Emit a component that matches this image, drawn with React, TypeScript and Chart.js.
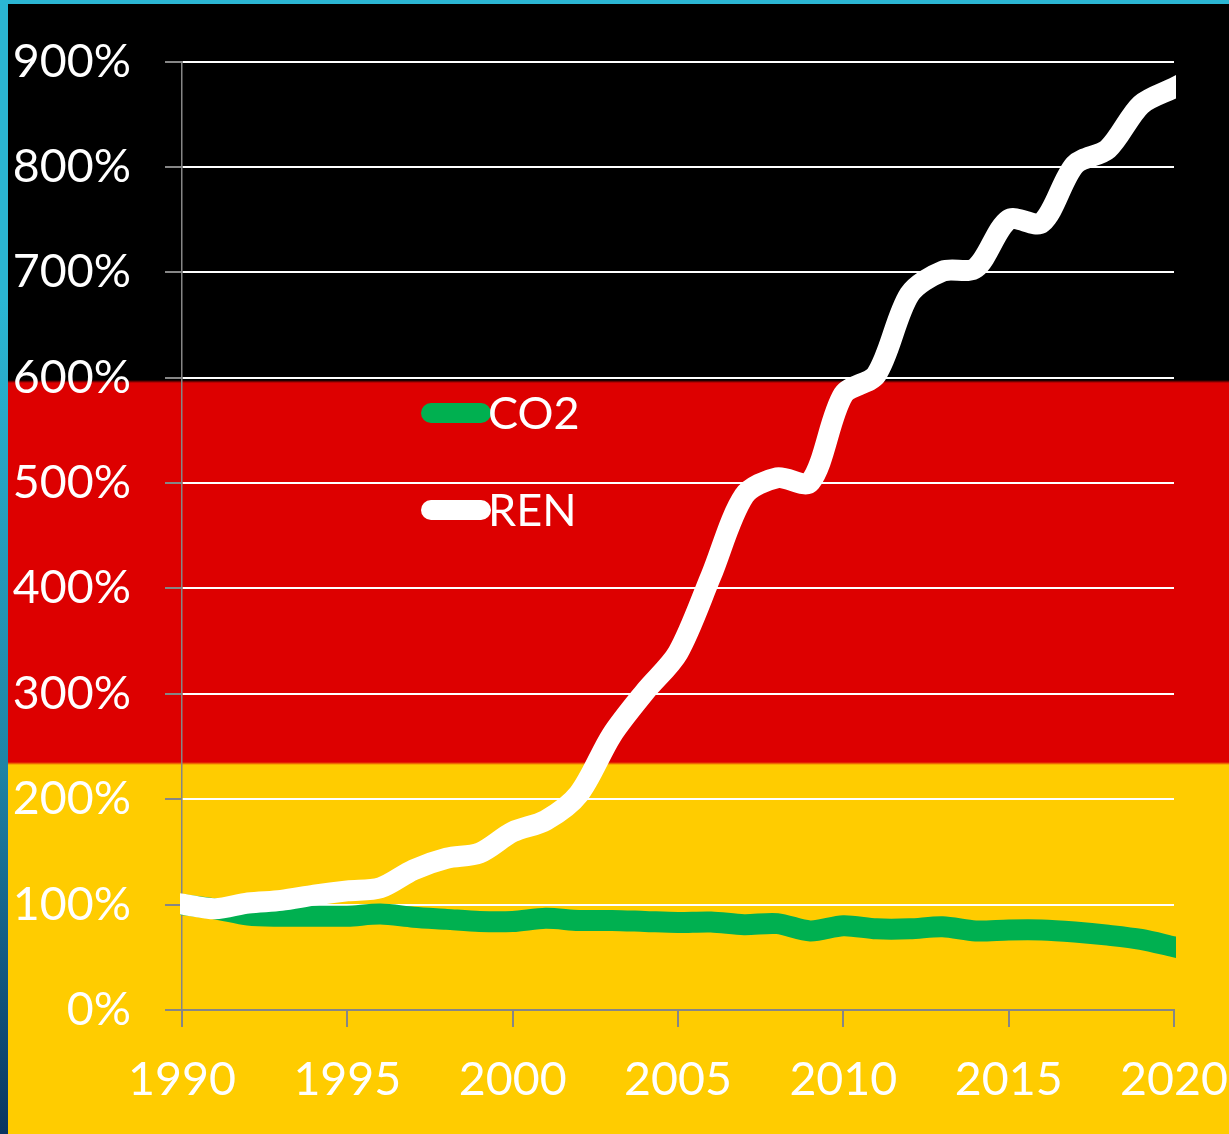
import React, { useEffect, useRef } from "react";
import { Chart, registerables } from "chart.js";

Chart.register(...registerables);

const years = [1990,1991,1992,1993,1994,1995,1996,1997,1998,1999,2000,2001,2002,2003,2004,2005,2006,2007,2008,2009,2010,2011,2012,2013,2014,2015,2016,2017,2018,2019,2020];
const co2 = [100,96,90,89,89,89,91,88,86,84,84,87,85,85,84,83,83.5,81,82,75,80,77,77,79,75,76,76,74,71,67,60];
const ren = [100.5,96,101.5,104,109,113,116,133,144,149,169,180,205,261,302,339,412,488,505,501,584,603,679,701,704,750,747,802,817,859,875];
const seriesNames = ["CO2", "REN"];
const seriesColors = ["#00B050", "#FFFFFF"];

const FONT = "Lato, 'Open Sans', sans-serif";
const GREY = "#868686";

const legendPlugin = {
  id: "insideLegend",
  afterDraw(chart: any) {
    const { ctx } = chart;
    const rows = [413, 510];
    chart.data.datasets.forEach((d: any, i: number) => {
      const y = rows[i];
      ctx.save();
      ctx.strokeStyle = d.borderColor;
      ctx.lineWidth = 20;
      ctx.lineCap = "round";
      ctx.beginPath();
      ctx.moveTo(431, y);
      ctx.lineTo(481, y);
      ctx.stroke();
      ctx.fillStyle = "#FFFFFF";
      ctx.font = `45px ${FONT}`;
      ctx.textAlign = "left";
      ctx.textBaseline = "middle";
      ctx.fillText(d.label, 488, y + 1);
      ctx.restore();
    });
  },
};

export default function App() {
  const ref = useRef<HTMLCanvasElement>(null);
  useEffect(() => {
    const chart = new Chart(ref.current!, {
      type: "line",
      data: {
        datasets: [
          { label: seriesNames[0], data: years.map((x, i) => ({ x, y: co2[i] })), borderColor: seriesColors[0], order: 2 },
          { label: seriesNames[1], data: years.map((x, i) => ({ x, y: ren[i] })), borderColor: seriesColors[1], order: 1 },
        ].map((d) => ({ ...d, borderWidth: 21, tension: 0.3, pointRadius: 0, borderCapStyle: "square", clip: { left: 2, right: 2, top: 30, bottom: 0 } })) as any,
      },
      options: {
        animation: false,
        responsive: false,
        layout: { padding: { left: 0, top: 61.5, right: 55, bottom: 0 } },
        plugins: { legend: { display: false }, tooltip: { enabled: false } },
        scales: {
          x: {
            type: "linear",
            min: 1990,
            max: 2020,
            afterFit: (s: any) => { s.height = 124; s.paddingLeft = 0; s.paddingRight = 0; },
            border: { color: GREY, width: 2 },
            grid: { drawOnChartArea: false, color: GREY, tickColor: GREY, tickLength: 17, lineWidth: 2 },
            ticks: { stepSize: 5, maxRotation: 0, padding: 25, color: "#FFFFFF", font: { family: FONT, size: 46.5 }, callback: (v: any) => String(v) },
          },
          y: {
            min: 0,
            max: 900,
            afterFit: (s: any) => { s.width = 182; s.paddingTop = 0; s.paddingBottom = 0; },
            border: { color: GREY, width: 1.5 },
            grid: {
              lineWidth: 2,
              tickLength: 17,
              tickColor: GREY,
              color: (c: any) => (c.tick && c.tick.value === 0 ? GREY : "#FFFFFF"),
            },
            ticks: { stepSize: 100, padding: 34, color: "#FFFFFF", font: { family: FONT, size: 46.5 }, callback: (v: any) => `${v}%` },
          },
        },
      },
      plugins: [legendPlugin],
    } as any);
    return () => chart.destroy();
  }, []);

  return (
    <div style={{ position: "fixed", left: 0, top: 0, width: 1229, height: 1134, overflow: "hidden", background: "linear-gradient(to bottom, #000 0, #000 380px, #DD0000 383px, #DD0000 762px, #FFCC00 765px, #FFCC00 100%)" }}>
      <div style={{ position: "absolute", left: 0, top: 0, width: 1229, height: 4, background: "#2BB6D3" }} />
      <div style={{ position: "absolute", left: 0, top: 0, width: 8, height: 1134, background: "linear-gradient(to bottom, #2BB6D3 0, #2BB6D3 300px, #1F84A6 763px, #145E86 938px, #0A3560 1134px)" }} />
      <canvas ref={ref} width={1229} height={1134} style={{ position: "absolute", left: 0, top: 0, display: "block" }} />
    </div>
  );
}
